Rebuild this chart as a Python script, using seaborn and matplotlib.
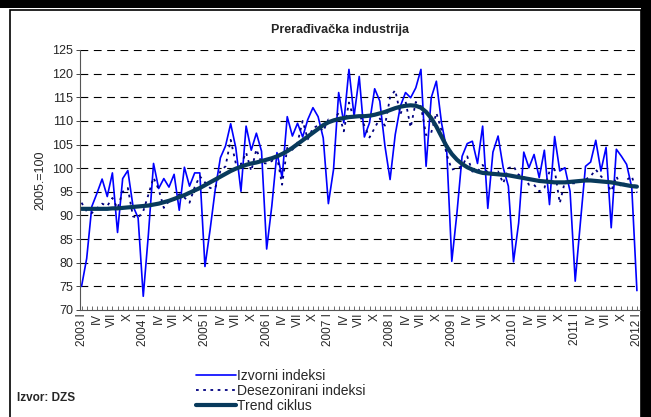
import numpy as np
import pandas as pd
import matplotlib
matplotlib.use('Agg')
import matplotlib.pyplot as plt
import seaborn as sns
from matplotlib.patches import Rectangle

# monthly indices, 2003 I .. 2012 I
izvorni = [75.0, 80.9, 91.9, 94.7, 97.7, 94.0, 99.0, 86.4, 97.8, 99.5, 92.0, 89.5,
           72.9, 86.0, 101.0, 95.7, 97.8, 96.0, 98.7, 91.1, 100.2, 96.2, 99.0, 99.0,
           79.2, 87.0, 95.5, 102.2, 104.7, 109.4, 104.3, 95.1, 108.9, 103.8, 107.4, 103.6,
           82.9, 92.0, 103.3, 98.0, 110.9, 106.8, 109.5, 106.6, 110.3, 112.8, 110.9, 106.4,
           92.5, 99.7, 116.0, 109.6, 120.9, 111.0, 119.4, 106.6, 109.6, 116.8, 114.2, 104.7,
           97.6, 107.1, 113.1, 116.0, 114.9, 117.0, 120.9, 100.4, 114.9, 118.4, 109.6, 104.0,
           80.3, 90.5, 102.5, 105.2, 105.7, 101.0, 108.9, 91.5, 103.4, 106.8, 100.1, 96.2,
           80.2, 88.4, 103.4, 100.1, 102.9, 98.0, 103.8, 92.3, 106.7, 99.4, 100.1, 95.1,
           76.1, 88.4, 100.4, 101.3, 105.9, 99.4, 104.4, 87.4, 104.0, 102.5, 100.8, 95.9,
           74.1]

desezonirani = [92.7, 90.9, 90.5, 91.5, 92.5, 92.0, 93.7, 91.5, 95.0, 95.8, 89.8, 89.5,
                90.9, 94.4, 98.0, 95.5, 91.6, 93.0, 93.3, 94.5, 93.8, 92.7, 96.0, 98.3,
                97.0, 95.8, 95.8, 99.4, 100.4, 106.0, 101.0, 100.8, 103.3, 99.4, 104.0, 101.1,
                101.0, 101.5, 102.5, 96.5, 104.3, 103.9, 105.4, 110.0, 106.1, 108.5, 109.0, 107.8,
                110.3, 110.0, 111.7, 107.8, 113.9, 110.3, 111.4, 109.0, 106.5, 108.5, 110.5, 109.0,
                115.0, 116.5, 111.4, 114.2, 108.6, 114.0, 113.1, 107.0, 107.5, 111.7, 108.0, 102.9,
                99.7, 100.0, 100.4, 102.5, 99.3, 99.3, 100.7, 99.0, 98.6, 99.3, 96.8, 100.0,
                100.4, 98.6, 98.3, 96.5, 96.5, 95.1, 95.8, 99.3, 99.7, 92.6, 97.2, 96.8,
                96.8, 97.2, 97.6, 98.3, 99.7, 98.3, 97.2, 95.1, 98.3, 95.9, 97.5, 98.3,
                94.8]

trend = [91.4, 91.4, 91.4, 91.4, 91.4, 91.4, 91.5, 91.5, 91.6, 91.7, 91.8, 91.9,
         92.0, 92.1, 92.3, 92.5, 92.8, 93.1, 93.5, 93.9, 94.3, 94.8, 95.3, 95.8,
         96.4, 97.0, 97.6, 98.2, 98.8, 99.4, 99.9, 100.3, 100.7, 101.0, 101.2, 101.5,
         101.8, 102.1, 102.5, 103.0, 103.6, 104.3, 105.1, 105.9, 106.7, 107.5, 108.3, 109.1,
         109.7, 110.1, 110.4, 110.6, 110.8, 110.9, 111.0, 111.0, 111.1, 111.3, 111.6, 111.9,
         112.3, 112.7, 113.0, 113.2, 113.3, 113.2, 112.8, 111.9, 110.6, 108.8, 106.7, 104.6,
         103.0, 101.8, 100.9, 100.2, 99.7, 99.3, 99.0, 98.9, 98.8, 98.7, 98.6, 98.5,
         98.3, 98.1, 97.9, 97.7, 97.5, 97.3, 97.2, 97.1, 97.0, 97.0, 97.0, 97.1,
         97.2, 97.3, 97.4, 97.4, 97.3, 97.2, 97.1, 97.0, 96.8, 96.6, 96.4, 96.2,
         96.1]

years = list(range(2003, 2013))
kvartali = ['I', 'IV', 'VII', 'X']

df = pd.DataFrame({'mjesec': np.arange(len(izvorni)),
                   'Izvorni indeksi': izvorni,
                   'Desezonirani indeksi': desezonirani,
                   'Trend ciklus': trend})

sns.set_style('white')
plt.rcParams['font.family'] = ['Liberation Sans', 'DejaVu Sans']

fig = plt.figure(figsize=(6.51, 4.17), dpi=100)
# frame around the chart: black band on top and right, thin line on the left
fig.add_artist(Rectangle((0, 1 - 8 / 417), 1, 8 / 417, transform=fig.transFigure,
                         facecolor='black', edgecolor='none', zorder=-5))
fig.add_artist(Rectangle((641 / 651, 0), 10 / 651, 1, transform=fig.transFigure,
                         facecolor='black', edgecolor='none', zorder=-5))
fig.add_artist(Rectangle((10 / 651, -0.01), 631 / 651, 1.01 - 10 / 417, transform=fig.transFigure,
                         facecolor='none', edgecolor='black', lw=1.2, zorder=-4))

ax = fig.add_axes([80 / 651, 1 - 310 / 417, 560 / 651, 260 / 417])
ax.set_facecolor('none')

sns.lineplot(data=df, x='mjesec', y='Izvorni indeksi', ax=ax, color='#0000FF', lw=1.2,
             label='Izvorni indeksi')
sns.lineplot(data=df, x='mjesec', y='Desezonirani indeksi', ax=ax, color='#000080', lw=1.3,
             label='Desezonirani indeksi', linestyle=(0, (1.5, 2.5)))
sns.lineplot(data=df, x='mjesec', y='Trend ciklus', ax=ax, color='#083A5C', lw=3,
             label='Trend ciklus')

ax.set_ylim(70, 125)
ax.set_xlim(-0.3, 108.6)
ax.set_yticks(range(70, 126, 5))
for v in range(75, 126, 5):
    ax.axhline(v, color='black', lw=0.8, ls=(0, (7, 5)), zorder=0)

# monthly ticks, labels every quarter
ticks = []
labels = []
for k, y in enumerate(years):
    for q, kv in enumerate(kvartali):
        m = k * 12 + q * 3
        if m > 108:
            break
        ticks.append(m)
        labels.append(f'{y} I' if q == 0 else kv)
ax.set_xticks(ticks)
ax.set_xticklabels(labels, rotation=90, fontsize=8.5)
ax.set_xticks(range(0, 109), minor=True)
ax.tick_params(axis='x', which='both', direction='in', length=3, width=0.6, pad=2,
               bottom=True, color='#555555')
ax.tick_params(axis='y', which='both', direction='out', length=3, width=0.6, pad=2,
               left=True, labelsize=9)

for s in ['top', 'right']:
    ax.spines[s].set_visible(False)
ax.spines['left'].set_color('#555555')
ax.spines['bottom'].set_color('#555555')
ax.spines['left'].set_linewidth(0.8)
ax.spines['bottom'].set_linewidth(0.8)

ax.set_xlabel('')
ax.set_ylabel('2005.=100', fontsize=9, labelpad=4)

ax.get_legend().remove()
handles, lbls = ax.get_legend_handles_labels()
fig.legend(handles, lbls, loc='center left', bbox_to_anchor=(196 / 651, 1 - 391 / 417),
           frameon=False, fontsize=10, handlelength=2.9, handletextpad=0.05,
           labelspacing=0.05, borderpad=0, borderaxespad=0)

fig.text(340 / 651, 1 - 30 / 417, 'Prerađivačka industrija', ha='center', va='center',
         fontsize=9, fontweight='bold')
fig.text(17 / 651, 1 - 398 / 417, 'Izvor: DZS', ha='left', va='center',
         fontsize=8.5, fontweight='bold')

fig.savefig('out.png', dpi=100)
